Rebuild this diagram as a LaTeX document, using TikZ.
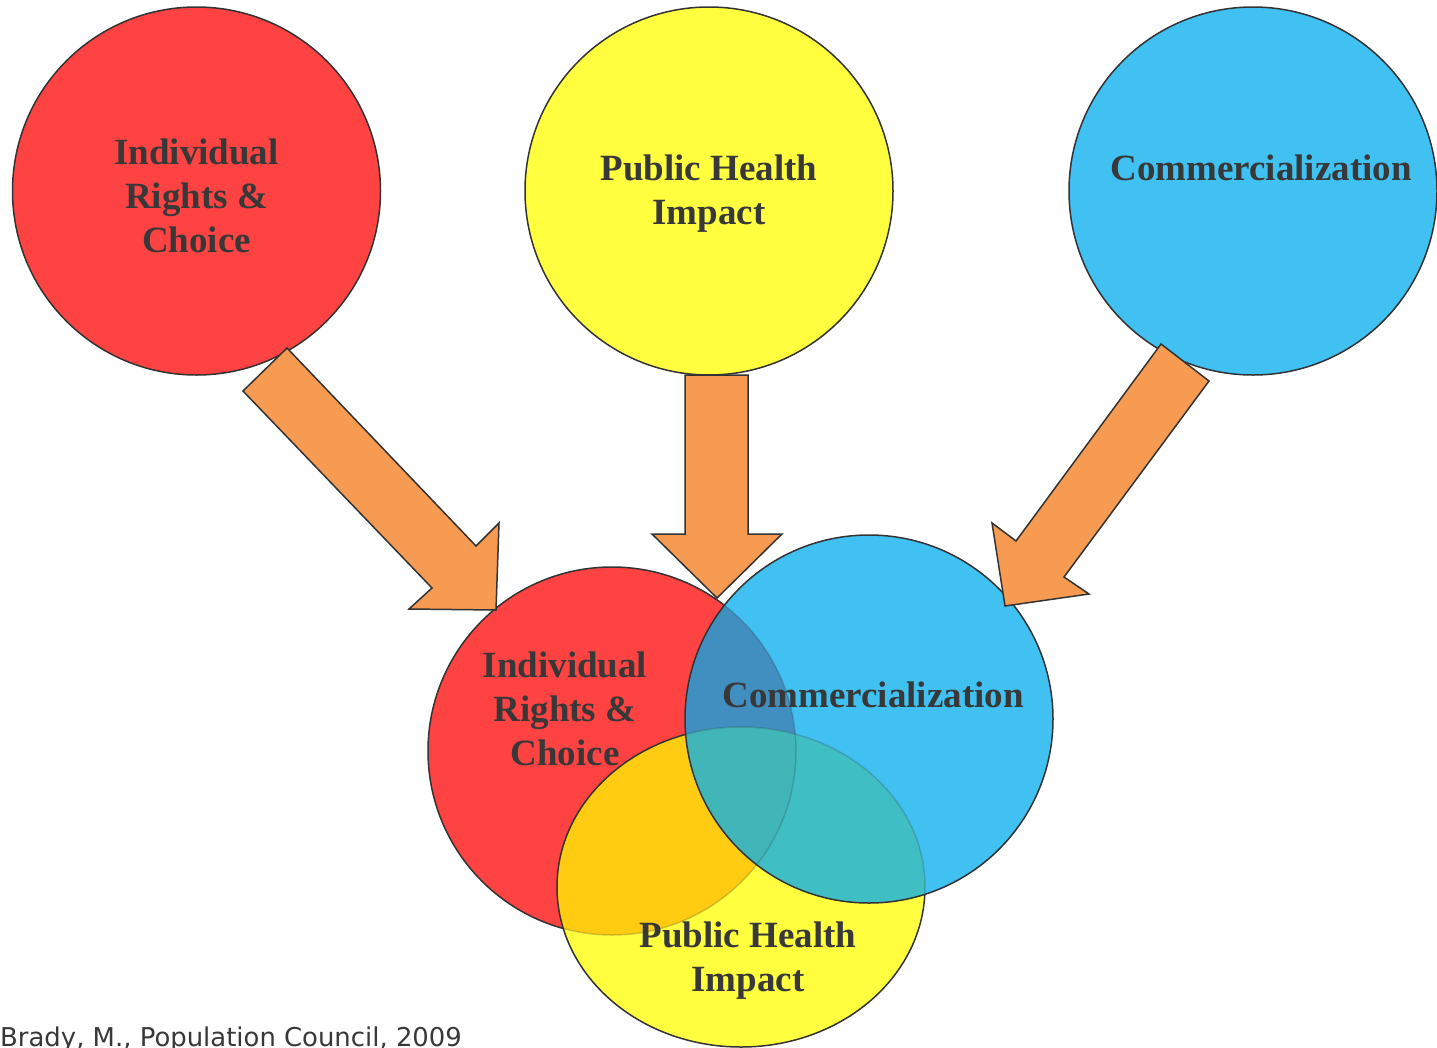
\documentclass[tikz,border=0pt]{standalone}
\usepackage{fontspec}
\setmainfont{Liberation Serif}
\newfontfamily\footfont{DejaVu Sans}
\definecolor{cred}{HTML}{FF4343}
\definecolor{cyel}{HTML}{FFFF40}
\definecolor{cblue}{HTML}{40C1F1}
\definecolor{corange}{HTML}{F79B52}
\definecolor{cry}{HTML}{FFCC12}
\definecolor{crb}{HTML}{408FC0}
\definecolor{cyb}{HTML}{3FBFC3}
\definecolor{cryb}{HTML}{40B6B8}
\definecolor{cline}{HTML}{333333}
\definecolor{ctext}{HTML}{383838}
\begin{document}
\begin{tikzpicture}[x=1pt,y=-1pt,
  outl/.style={draw=cline,line width=1.5pt},
  faint/.style={draw=cline,draw opacity=0.22,line width=1.5pt},
  blockarrow/.style={fill=corange,draw=cline,line width=1.5pt,line join=miter},
  lbl/.style={anchor=base,inner sep=0pt,text=ctext,font=\fontsize{37}{44}\selectfont\bfseries}]
\useasboundingbox (0,0) rectangle (1437,1047);
\def\RedB{(612,751) circle (184)}
\def\BlueB{(869,719) circle (184)}
\def\YelB{(741,887) ellipse (184 and 160)}
% top circles
\fill[cred] (196.5,191) circle (184);
\draw[outl] (196.5,191) circle (184);
\fill[cyel] (709,191) circle (184);
\draw[outl] (709,191) circle (184);
\fill[cblue] (1253,191) circle (184);
\draw[outl] (1253,191) circle (184);
% bottom venn: red
\fill[cred] \RedB;
\draw[outl] \RedB;
% yellow
\fill[cyel] \YelB;
\begin{scope}\clip \RedB; \fill[cry] \YelB;\end{scope}
\begin{scope}\clip \YelB; \draw[faint] \RedB;\end{scope}
\draw[outl] \YelB;
% blue
\fill[cblue] \BlueB;
\begin{scope}\clip \RedB; \fill[crb] \BlueB;\end{scope}
\begin{scope}\clip \YelB; \fill[cyb] \BlueB;\end{scope}
\begin{scope}\clip \RedB; \clip \YelB; \fill[cryb] \BlueB;\end{scope}
\begin{scope}\clip \BlueB; \draw[faint] \RedB; \draw[faint] \YelB;\end{scope}
\draw[outl] \BlueB;
% block arrows
\draw[blockarrow] (287,348) -- (476,546) -- (499,523) -- (496,610) -- (409,609) -- (432,588) -- (243,391) -- cycle;
\draw[blockarrow] (685,375) -- (748,375) -- (748,534) -- (782,534) -- (717,598) -- (652,534) -- (685,534) -- cycle;
\draw[blockarrow] (1161,344) -- (1209,381) -- (1064,577) -- (1089,594) -- (1005,606) -- (992,523) -- (1016,541) -- cycle;
% labels top
\node[lbl] (t1a) at (196.5,164) {Individual};
\node[lbl] (t1b) at (196.5,208) {Rights \&};
\node[lbl] (t1c) at (196.5,252) {Choice};
\node[lbl] (t2a) at (709,180) {Public Health};
\node[lbl] (t2b) at (709,224) {Impact};
\node[lbl] (t3a) at (1261,180) {Commercialization};
% labels bottom
\node[lbl] (b1a) at (565,677) {Individual};
\node[lbl] (b1b) at (565,721) {Rights \&};
\node[lbl] (b1c) at (565,765) {Choice};
\node[lbl] (b3a) at (873,707) {Commercialization};
\node[lbl] (b2a) at (748,947) {Public Health};
\node[lbl] (b2b) at (748,991) {Impact};
% footer
\node[anchor=base west,inner sep=0pt,text=ctext,font=\footfont\fontsize{25.9}{30}\selectfont] (foot) at (0,1046) {Brady, M., Population Council, 2009};
\end{tikzpicture}
\end{document}
